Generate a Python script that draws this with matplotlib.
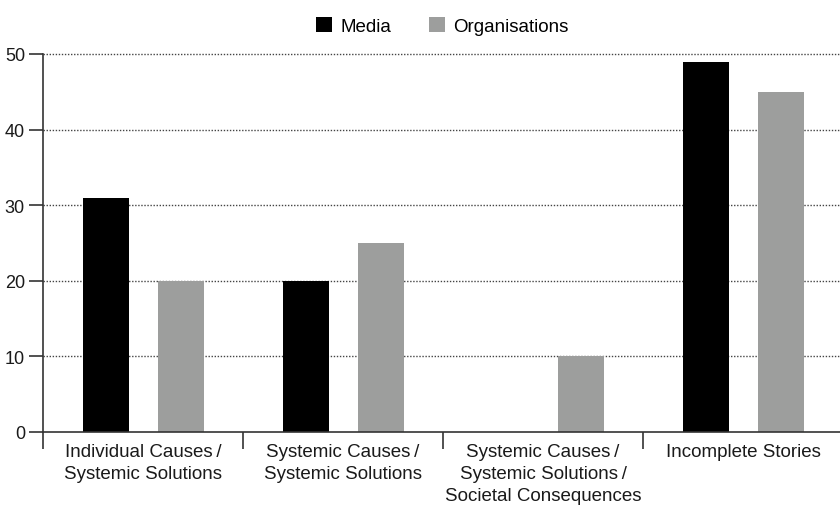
import matplotlib
matplotlib.use("Agg")
import matplotlib.pyplot as plt
import numpy as np

categories = [
    "Individual Causes\u2009/\nSystemic Solutions",
    "Systemic Causes\u2009/\nSystemic Solutions",
    "Systemic Causes\u2009/\nSystemic Solutions\u2009/\nSocietal Consequences",
    "Incomplete Stories",
]
media = [31, 20, 0, 49]
organisations = [20, 25, 10, 45]
y_ticks = [0, 10, 20, 30, 40, 50]

plt.rcParams["font.family"] = ["Liberation Sans", "DejaVu Sans"]

W, H = 840, 506
fig = plt.figure(figsize=(W / 100, H / 100), dpi=100)
left, right, bottom, top = 43, 843, 433, 55
ax = fig.add_axes([left / W, 1 - bottom / H, (right - left) / W, (bottom - top) / H])

x = np.arange(len(categories))
width = 0.23
ax.bar(x - 0.1875, media, width, color="#000000", label="Media", zorder=3)
ax.bar(x + 0.19, organisations, width, color="#9d9e9d", label="Organisations", zorder=3)

ax.set_xlim(-0.5, len(categories) - 0.5)
ax.set_ylim(0, 50)

ax.set_yticks(y_ticks)
ax.tick_params(axis="y", length=10, width=1.2, color="#333333", labelsize=13, pad=3)
for yv in y_ticks[1:]:
    ax.axhline(yv, color="#444444", linestyle=(0, (1, 1.2)), linewidth=1.0, zorder=1, clip_on=False)

# category boundaries as bottom ticks, labels centred under each group
ax.set_xticks(np.arange(len(categories) + 1) - 0.5)
ax.set_xticklabels([])
ax.tick_params(axis="x", length=12, width=1.2, color="#333333")
for xi, lab in zip(x, categories):
    ax.annotate(lab, xy=(xi, 0), xycoords=("data", "axes fraction"),
                xytext=(0, -11), textcoords="offset pixels",
                ha="center", va="top", fontsize=13.5, linespacing=1.4,
                color="#1a1a1a")

for s in ["top", "right"]:
    ax.spines[s].set_visible(False)
ax.spines["left"].set_color("#333333")
ax.spines["left"].set_linewidth(1.2)
ax.spines["bottom"].set_color("#333333")
ax.spines["bottom"].set_linewidth(1.2)
ax.spines["bottom"].set_zorder(4)

for lab in ax.get_yticklabels():
    lab.set_color("#1a1a1a")

fig.legend(loc="center", bbox_to_anchor=(442.5 / W, 1 - 27 / H), ncol=2, frameon=False,
           fontsize=13.5, handlelength=0.85, handleheight=0.85, handletextpad=0.45,
           columnspacing=2.0, borderpad=0, borderaxespad=0)

fig.savefig("out.png", dpi=100)
